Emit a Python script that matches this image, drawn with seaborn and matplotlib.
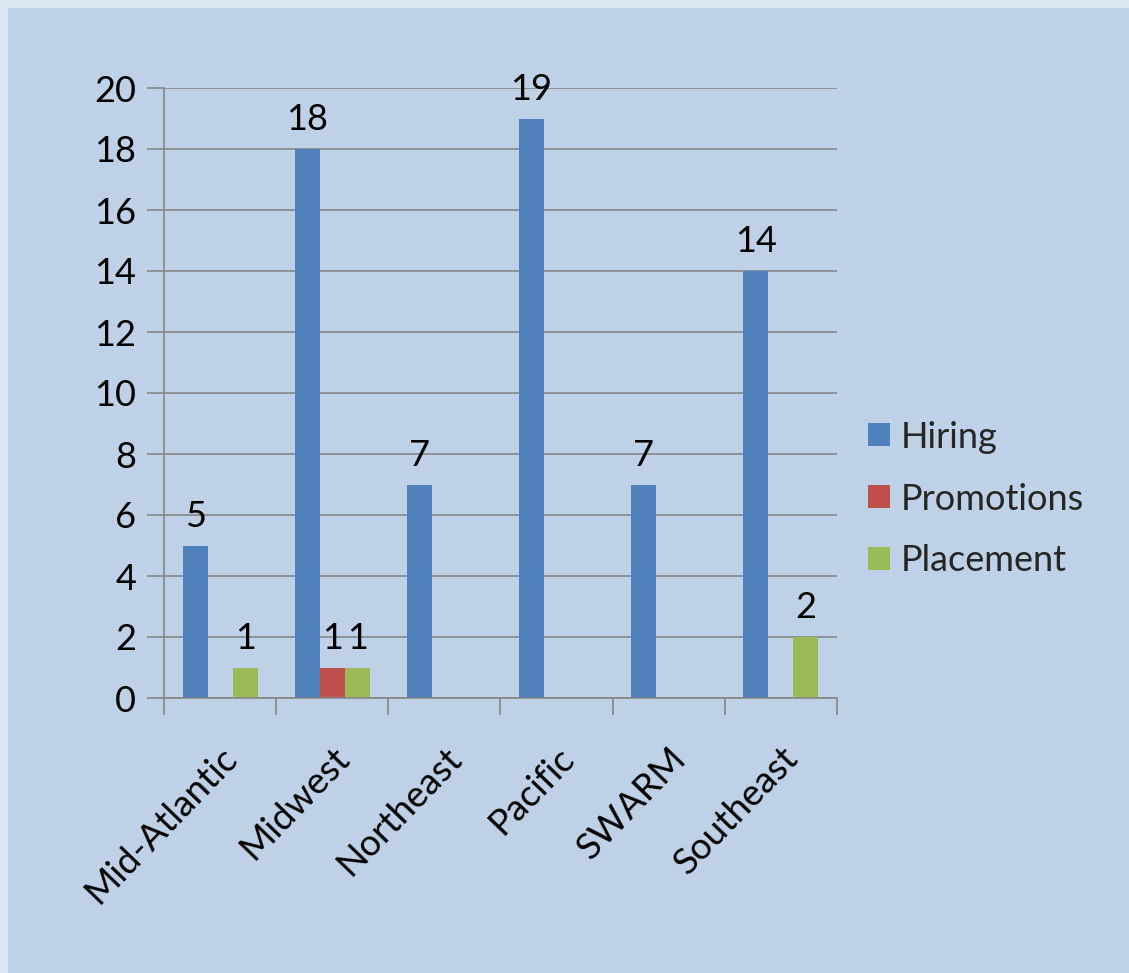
import matplotlib
matplotlib.use("Agg")
import matplotlib.pyplot as plt
import seaborn as sns
import pandas as pd
from matplotlib.patches import Rectangle

regions = ["Mid-Atlantic", "Midwest", "Northeast", "Pacific", "SWARM", "Southeast"]
hiring = [5, 18, 7, 19, 7, 14]
promotions = [0, 1, 0, 0, 0, 0]
placement = [1, 1, 0, 0, 0, 2]
series_names = ["Hiring", "Promotions", "Placement"]
colors = ["#4F81BD", "#C0504D", "#9BBB59"]
yticks = [0, 2, 4, 6, 8, 10, 12, 14, 16, 18, 20]

rows = []
for name, vals in zip(series_names, [hiring, promotions, placement]):
    for r, v in zip(regions, vals):
        rows.append({"Region": r, "Type": name, "Count": v})
df = pd.DataFrame(rows)

sns.set_theme(style="white")
plt.rcParams['font.family'] = ['Lato', 'DejaVu Sans']

W, H = 1129, 973
fig = plt.figure(figsize=(W / 100, H / 100), dpi=100)
fig.patch.set_facecolor("#DCE6F1")
fig.patches.append(Rectangle((8 / W, 0), 1 - 8 / W, 1 - 8 / H, transform=fig.transFigure,
                             facecolor="#BFD1E6", edgecolor="none", zorder=-10))

ax = fig.add_axes([164 / W, 1 - 698 / H, (837 - 164) / W, (698 - 88) / H])
ax.set_facecolor("none")
ax.set_zorder(5)

sns.barplot(data=df, x="Region", y="Count", hue="Type", palette=colors,
            width=0.67, saturation=1, ax=ax, order=regions, hue_order=series_names,
            edgecolor="none", linewidth=0)

for cont in ax.containers:
    labels = [f"{int(b.get_height())}" if b.get_height() > 0 else "" for b in cont]
    ax.bar_label(cont, labels=labels, padding=9, fontsize=26, color="black")

ax.set_xlim(-0.5, len(regions) - 0.5)
ax.set_ylim(0, 20)
ax.set_yticks(yticks)
ax.yaxis.grid(True, color="#868686", linewidth=1.2)
ax.set_axisbelow(True)
ax.set_xlabel("")
ax.set_ylabel("")

for s in ["top", "right"]:
    ax.spines[s].set_visible(False)
for s in ["left", "bottom"]:
    ax.spines[s].set_color("#868686")
    ax.spines[s].set_linewidth(1.2)

ax.tick_params(axis="y", which="major", length=12, width=1.2, color="#868686",
               labelsize=26, labelcolor="black", pad=8, left=True)
ax.set_xticks(range(len(regions)))
ax.set_xticklabels(regions, rotation=46, ha="right", rotation_mode="anchor",
                   fontsize=26.5, color="black")
ax.tick_params(axis="x", which="major", length=0, pad=31)
ax.set_xticks([i - 0.5 for i in range(len(regions) + 1)], minor=True)
ax.tick_params(axis="x", which="minor", length=12, width=1.2, color="#868686", bottom=True)

handles, labs = ax.get_legend_handles_labels()
leg = ax.legend(handles, labs, loc="center left", frameon=False,
                fontsize=26, handlelength=0.6, handleheight=0.6, handletextpad=0.3,
                labelspacing=0.8, borderpad=0, borderaxespad=0,
                bbox_to_anchor=(868 / W, 1 - 499 / H), bbox_transform=fig.transFigure)

fig.savefig("out.png", dpi=100, facecolor=fig.get_facecolor())
